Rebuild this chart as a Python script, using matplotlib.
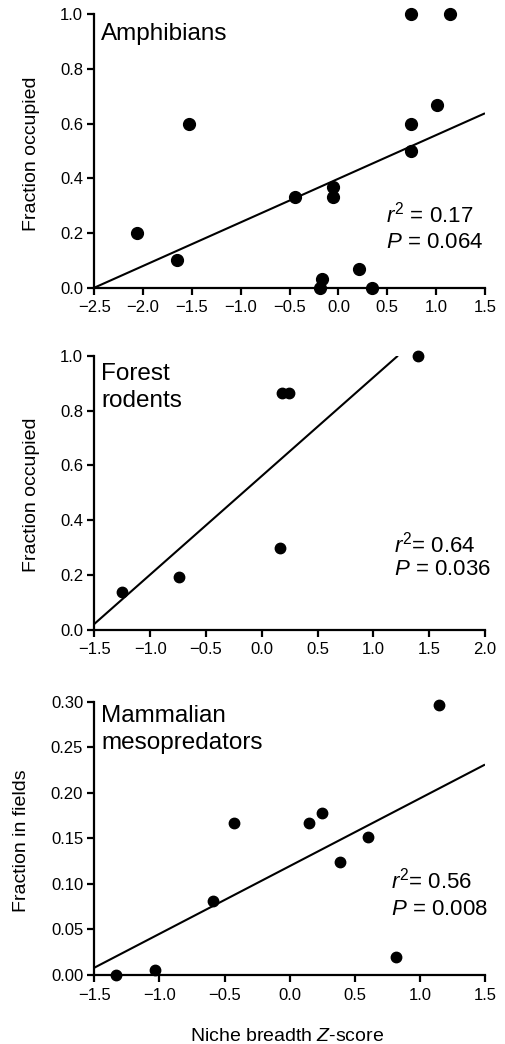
import matplotlib
matplotlib.use("Agg")
import matplotlib.pyplot as plt
from matplotlib.ticker import FuncFormatter, MultipleLocator

plt.rcParams['font.family'] = ['Liberation Sans', 'DejaVu Sans']
plt.rcParams['mathtext.fontset'] = 'custom'
plt.rcParams['mathtext.rm'] = 'Liberation Sans'
plt.rcParams['mathtext.it'] = 'Liberation Sans:italic'

# ---- data ----
amph_x = [0.74, 1.14, 1.01, 0.74, 0.74, -1.53, -0.45, -0.06, -0.06, -2.06, -1.65, -0.17, -0.19, 0.21, 0.34]
amph_y = [1.0, 1.0, 0.667, 0.6, 0.5, 0.6, 0.333, 0.367, 0.333, 0.2, 0.1, 0.033, 0.0, 0.067, 0.0]
amph_fit_x = [-2.5, 1.5]
amph_fit_y = [0.0, 0.638]

rod_x = [-1.25, -0.745, 0.163, 0.178, 0.241, 1.396]
rod_y = [0.137, 0.192, 0.298, 0.865, 0.865, 1.0]
rod_fit_x = [-1.5, 1.22]
rod_fit_y = [0.022, 1.0]

meso_x = [-1.33, -1.034, -0.591, -0.425, 0.146, 0.248, 0.604, 0.389, 0.814, 1.149]
meso_y = [0.0, 0.0055, 0.081, 0.167, 0.167, 0.178, 0.151, 0.124, 0.0198, 0.296]
meso_fit_x = [-1.5, 1.5]
meso_fit_y = [0.008, 0.231]

panels = [
    dict(x=amph_x, y=amph_y, fx=amph_fit_x, fy=amph_fit_y,
         xlim=(-2.5, 1.5), ylim=(0, 1.0), xstep=0.5, ystep=0.2, ydec=1,
         title=['Amphibians'], ylabel='Fraction occupied',
         stats=[r'$r^2$ = 0.17', r'$P$ = 0.064'], ms=8.5),
    dict(x=rod_x, y=rod_y, fx=rod_fit_x, fy=rod_fit_y,
         xlim=(-1.5, 2.0), ylim=(0, 1.0), xstep=0.5, ystep=0.2, ydec=1,
         title=['Forest', 'rodents'], ylabel='Fraction occupied',
         stats=[r'$r^2$= 0.64', r'$P$ = 0.036'], ms=7.5),
    dict(x=meso_x, y=meso_y, fx=meso_fit_x, fy=meso_fit_y,
         xlim=(-1.5, 1.5), ylim=(0, 0.30), xstep=0.5, ystep=0.05, ydec=2,
         title=['Mammalian', 'mesopredators'], ylabel='Fraction in fields',
         stats=[r'$r^2$= 0.56', r'$P$ = 0.008'], ms=7.5),
]


def make_fmt(dec):
    def f(v, pos):
        s = f'{v:.{dec}f}'
        if abs(v) < 1e-9:
            s = f'{0:.{dec}f}'
        return s.replace('-', '\u2212')
    return FuncFormatter(f)


W, H = 505, 1044
fig = plt.figure(figsize=(W / 100, H / 100), dpi=100)

# layout (pixels): left, right, top, bottom
boxes = [(94.3, 485, 14.3, 287.7), (94.3, 485, 355.7, 630), (94.3, 485, 701.7, 975)]
title_pos = [(0.017, [0.906]), (0.017, [0.911, 0.814]), (0.017, [0.927, 0.827])]
stats_pos = [(0.747, [0.237, 0.145]), (0.767, [0.284, 0.2005]), (0.759, [0.318, 0.2195])]
ylabel_pos = [(32, 154), (31.5, 495), (21.7, 841)]

for p, box, tp, sp, yp in zip(panels, boxes, title_pos, stats_pos, ylabel_pos):
    l, r, t, b = box
    ax = fig.add_axes([l / W, (H - b) / H, (r - l) / W, (b - t) / H])
    ax.plot(p['fx'], p['fy'], color='black', lw=1.5, solid_capstyle='butt')
    ax.plot(p['x'], p['y'], 'o', color='black', ms=p['ms'], clip_on=False, zorder=5)
    ax.set_xlim(*p['xlim'])
    ax.set_ylim(*p['ylim'])
    ax.xaxis.set_major_locator(MultipleLocator(p['xstep']))
    ax.yaxis.set_major_locator(MultipleLocator(p['ystep']))
    ax.xaxis.set_major_formatter(make_fmt(1))
    ax.yaxis.set_major_formatter(make_fmt(p['ydec']))
    for s in ['top', 'right']:
        ax.spines[s].set_visible(False)
    for s in ['left', 'bottom']:
        ax.spines[s].set_linewidth(1.6)
    ax.tick_params(axis='both', direction='out', length=5, width=1.6, labelsize=12)
    ax.tick_params(axis='x', pad=4)
    ax.tick_params(axis='y', pad=3)
    for yy, line in zip(tp[1], p['title']):
        ax.text(tp[0], yy, line, transform=ax.transAxes, fontsize=17.5,
                ha='left', va='baseline')
    for yy, line in zip(sp[1], p['stats']):
        ax.text(sp[0], yy, line, transform=ax.transAxes, fontsize=16,
                ha='left', va='baseline')
    fig.text(yp[0] / W, (H - yp[1]) / H, p['ylabel'], rotation=90,
             ha='center', va='center', fontsize=14)

fig.text(287 / W, (H - 1040.7) / H, r'Niche breadth $Z$-score', ha='center',
         va='baseline', fontsize=14)

fig.savefig('out.png', dpi=100)
